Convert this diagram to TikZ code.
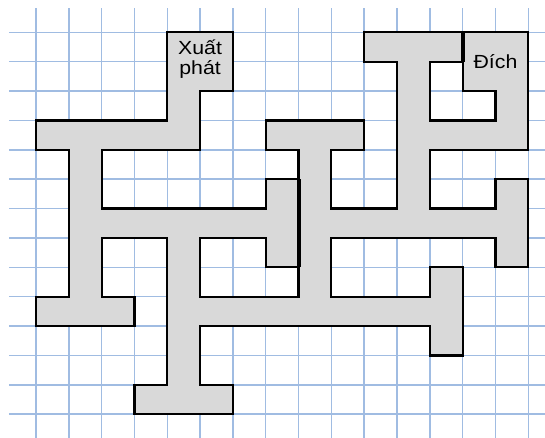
\documentclass[tikz,border=0pt]{standalone}
\usepackage{fontspec}
\setmainfont{Liberation Sans}
\definecolor{gridblue}{RGB}{160,188,226}
\definecolor{mazegray}{RGB}{217,217,217}
\begin{document}
\begin{tikzpicture}[x=32.82pt,y=-29.38pt,
  wall/.style={draw=black, line width=2.2pt, line join=miter, fill=mazegray},
  gridline/.style={draw=gridblue, line width=1.5pt},
  slit/.style={draw=black, line width=4pt},
  txt/.style={font=\fontsize{19}{20}\selectfont, align=center, inner sep=0pt, anchor=base}]
\useasboundingbox (-1.0969,-1.0994) rectangle (15.509,13.775);
\foreach \j in {0,...,13} \draw[gridline] (-0.8227,\j) -- (15.6,\j);
\foreach \i in {0,...,15} \draw[gridline] (\i,-0.827) -- (\i,13.9);
\draw[wall] (4,0) -- (6,0) -- (6,2) -- (5,2) -- (5,4) -- (2,4) -- (2,6) -- (7,6) -- (7,5) -- (8,5) -- (8,8) -- (7,8) -- (7,7) -- (5,7) -- (5,9) -- (8,9) -- (8,4) -- (7,4) -- (7,3) -- (10,3) -- (10,4) -- (9,4) -- (9,6) -- (11,6) -- (11,1) -- (10,1) -- (10,0) -- (13,0) -- (13,1) -- (12,1) -- (12,3) -- (14,3) -- (14,2) -- (13,2) -- (13,0) -- (15,0) -- (15,4) -- (12,4) -- (12,6) -- (14,6) -- (14,5) -- (15,5) -- (15,8) -- (14,8) -- (14,7) -- (9,7) -- (9,9) -- (12,9) -- (12,8) -- (13,8) -- (13,11) -- (12,11) -- (12,10) -- (5,10) -- (5,12) -- (6,12) -- (6,13) -- (3,13) -- (3,12) -- (4,12) -- (4,7) -- (2,7) -- (2,9) -- (3,9) -- (3,10) -- (0,10) -- (0,9) -- (1,9) -- (1,4) -- (0,4) -- (0,3) -- (4,3) -- cycle;
\draw[slit] (8,5) -- (8,8);
\draw[slit] (13,0) -- (13,1);
\node[txt] (start) at (5,1.443) {\scalebox{1.12}[1]{Xuất}\\\scalebox{1.12}[1]{phát}};
\node[txt] (goal) at (14,1.215) {\scalebox{1.12}[1]{Đích}};
\end{tikzpicture}
\end{document}
